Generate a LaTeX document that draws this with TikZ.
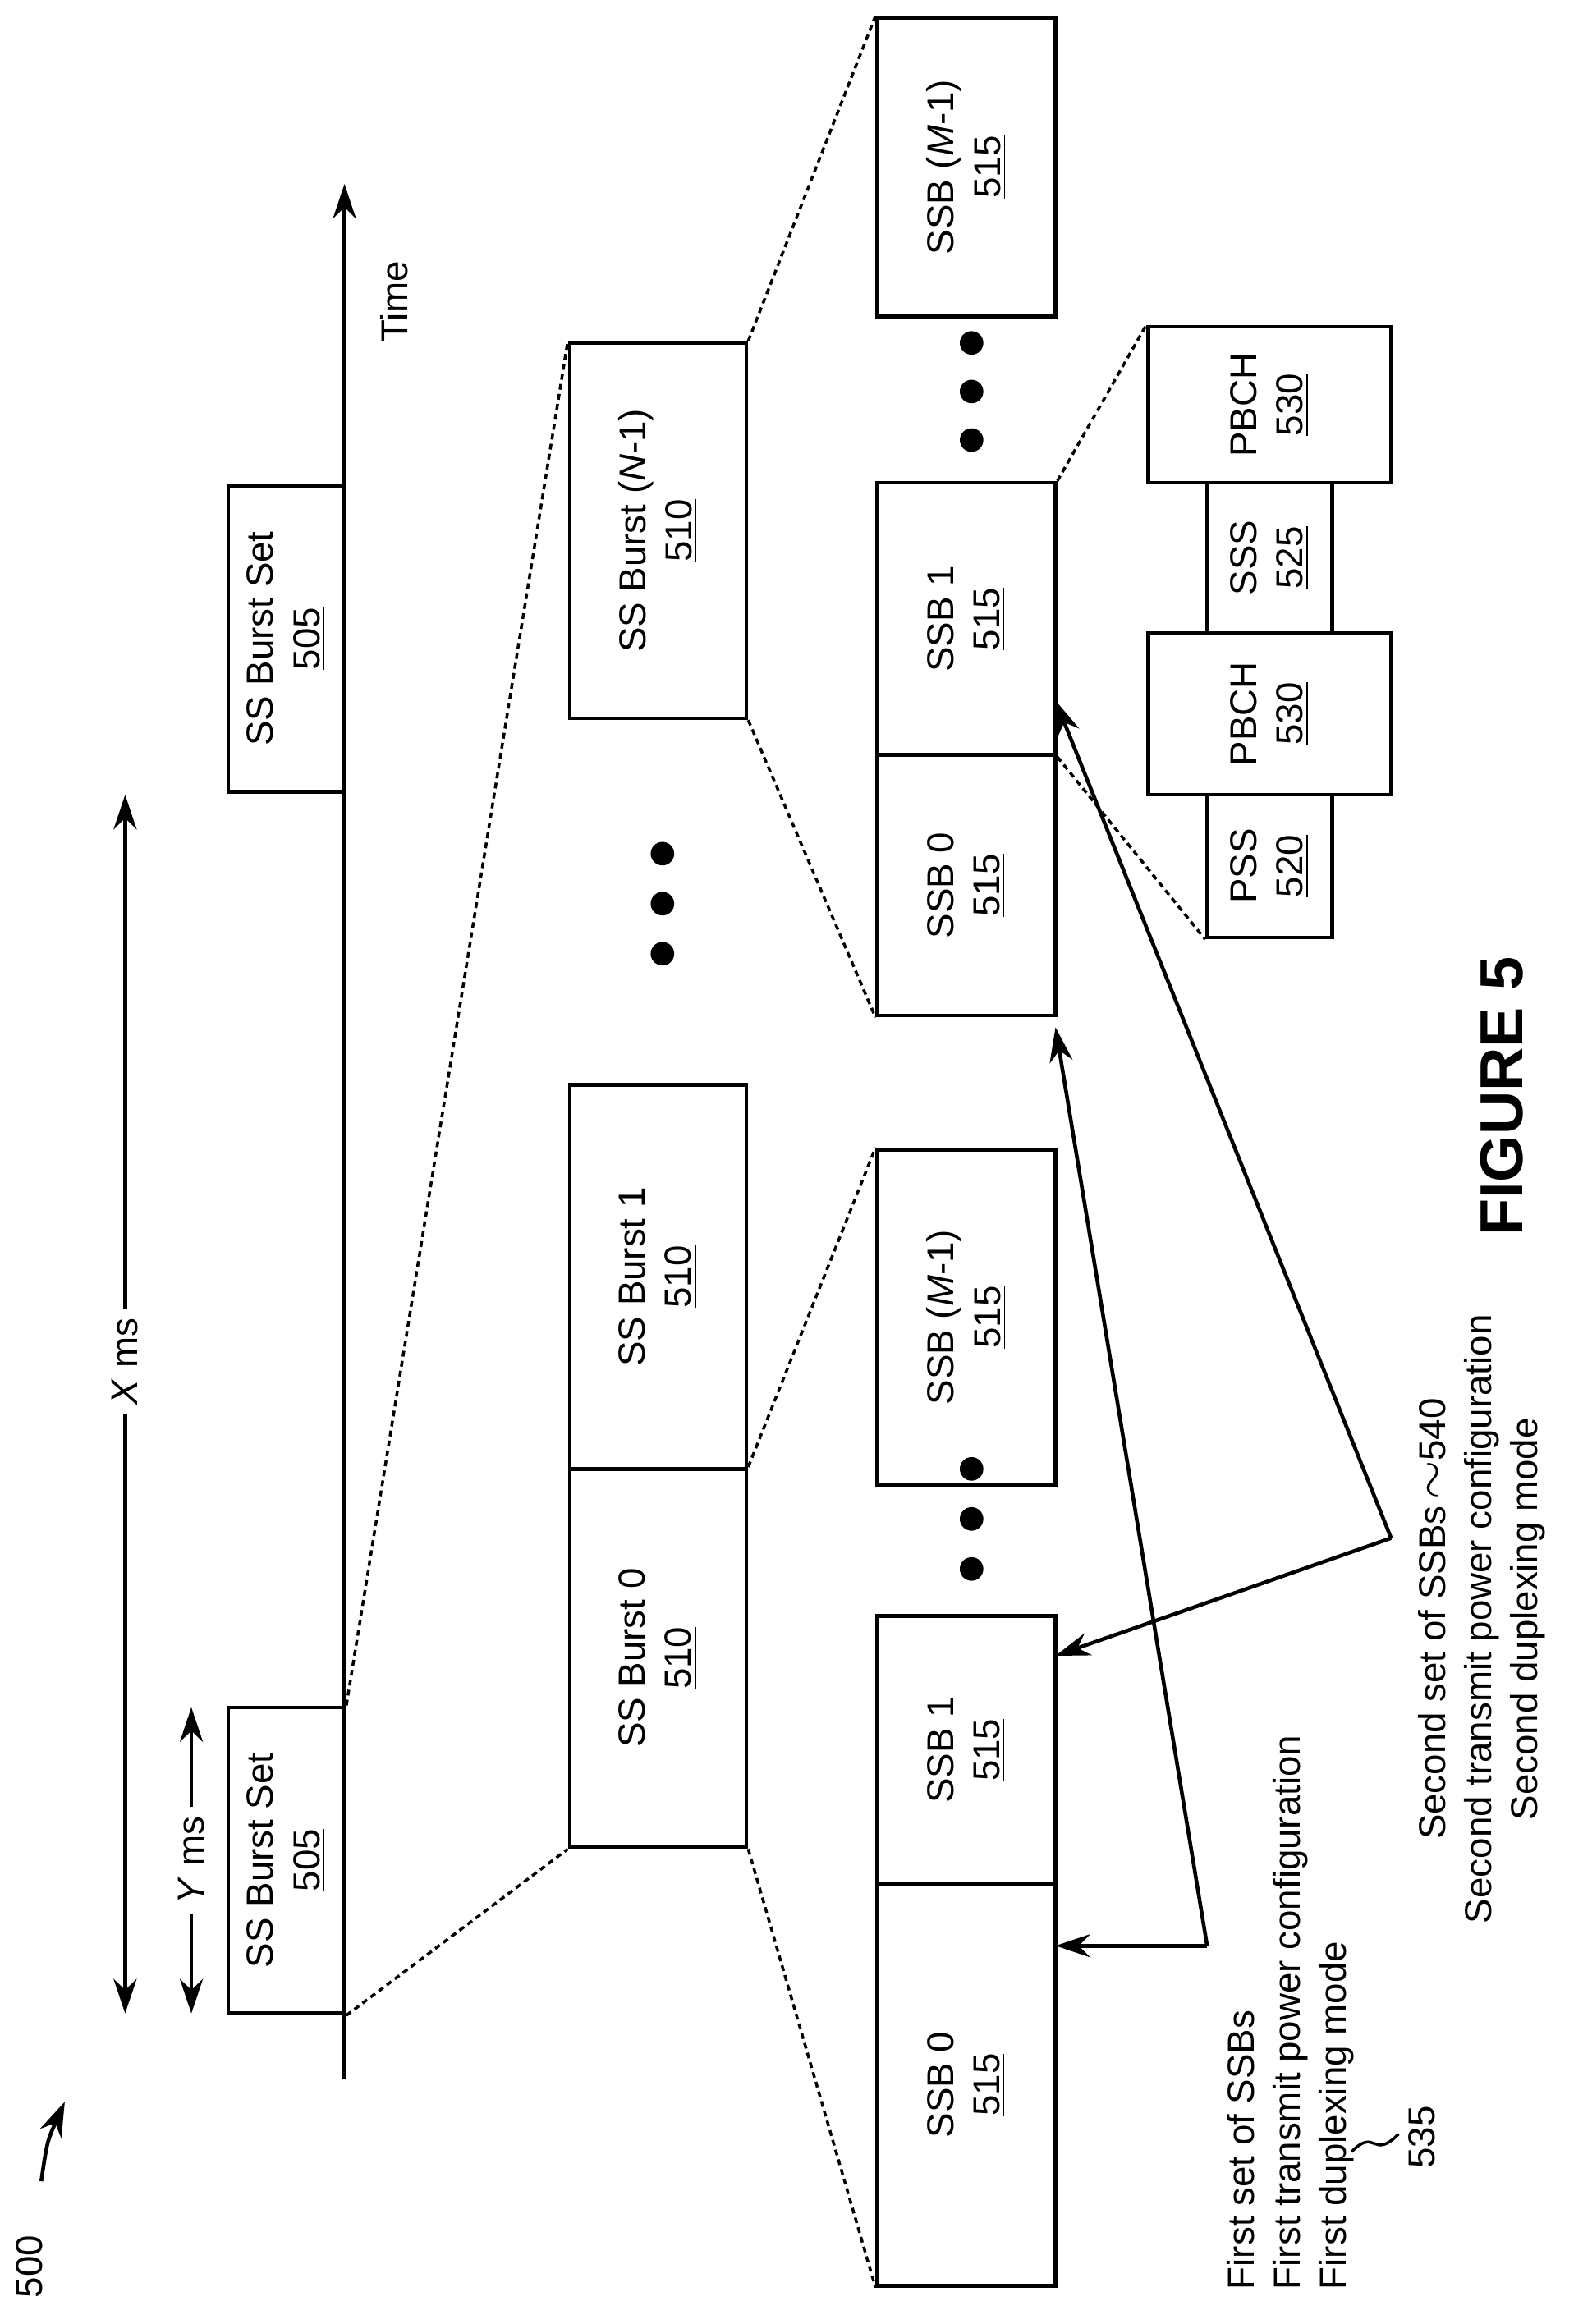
\documentclass[tikz,border=0pt]{standalone}
\usepackage{fontspec}
\setmainfont{Liberation Sans}
\usetikzlibrary{positioning, arrows.meta}

\begin{document}
\begin{tikzpicture}[
    x=0.01793cm, y=-0.01793cm,
    >=Stealth,
    lbl/.style={rotate=90, font=\fontsize{13}{16}\selectfont},
    blk/.style={draw, line width=1.3pt, rotate=90, align=center, inner sep=0pt, font=\fontsize{13}{16}\selectfont},
    zoomline/.style={line width=1pt, dash pattern=on 2pt off 1.5pt},
    ptr/.style={->, line width=1.3pt, >={Stealth[length=12pt, width=8pt]}},
]
\useasboundingbox (0,0) rectangle (1075,1579);

% === Time axis and burst sets ===
\coordinate (ax0) at (234,1413);
\coordinate (ax1) at (234,125);
\draw[ptr] (ax0) -- (ax1);
\node[lbl] (time) at (268,205) {Time};
\node[blk, minimum width=208*0.01793cm, minimum height=79*0.01793cm] (bs0) at (194.5,1264) {SS Burst Set\\\underline{505}};
\node[blk, minimum width=208*0.01793cm, minimum height=79*0.01793cm] (bs1) at (194.5,434) {SS Burst Set\\\underline{505}};

% === Durations ===
\coordinate (x0) at (85,1368);
\coordinate (x1) at (85,540);
\draw[ptr, <->] (x0) -- (x1);
\node[lbl, fill=white] (xms) at (85,925) {\textit{X} ms};
\coordinate (y0) at (130,1368);
\coordinate (y1) at (130,1160);
\draw[ptr, <->] (y0) -- (y1);
\node[lbl, fill=white] (yms) at (130,1264) {\textit{Y} ms};

\node[lbl] (fig) at (20,1540) {500};
\coordinate (r0) at (28,1482);
\coordinate (r1) at (44,1428);
\draw[ptr] (r0) .. controls (32,1455) .. (r1);

% === SS bursts ===
\node[blk, minimum width=257*0.01793cm, minimum height=120*0.01793cm] (b0) at (447,1126.5) {SS Burst 0\\\underline{510}};
\node[blk, minimum width=261*0.01793cm, minimum height=120*0.01793cm] (b1) at (447,867.5) {SS Burst 1\\\underline{510}};
\node[blk, minimum width=255*0.01793cm, minimum height=120*0.01793cm] (bN) at (447,360.5) {SS Burst (\textit{N}-1)\\\underline{510}};
\foreach \yy in {580,614,648} \fill (450,\yy) circle (8);
\draw[zoomline] (bs0.south west) -- (b0.north west);
\draw[zoomline] (bs0.south east) -- (bN.north east);

% === SSBs ===
\node[blk, minimum width=273*0.01793cm, minimum height=121*0.01793cm] (s00) at (656.5,1416.5) {SSB 0\\\underline{515}};
\node[blk, minimum width=182*0.01793cm, minimum height=121*0.01793cm] (s01) at (656.5,1189) {SSB 1\\\underline{515}};
\node[blk, minimum width=228*0.01793cm, minimum height=121*0.01793cm] (s0M) at (656.5,895) {SSB (\textit{M}-1)\\\underline{515}};
\foreach \yy in {998,1032,1066} \fill (660,\yy) circle (8);
\node[blk, minimum width=177*0.01793cm, minimum height=121*0.01793cm] (s10) at (656.5,601.5) {SSB 0\\\underline{515}};
\node[blk, minimum width=185*0.01793cm, minimum height=121*0.01793cm] (s11) at (656.5,420.5) {SSB 1\\\underline{515}};
\node[blk, minimum width=203*0.01793cm, minimum height=121*0.01793cm] (s1M) at (656.5,113.5) {SSB (\textit{M}-1)\\\underline{515}};
\foreach \yy in {233,266,299} \fill (660,\yy) circle (8);
\draw[zoomline] (b0.south west) -- (s00.north west);
\draw[zoomline] (b0.south east) -- (s0M.north east);
\draw[zoomline] (bN.south west) -- (s10.north west);
\draw[zoomline] (bN.south east) -- (s1M.north east);

% === SSB contents ===
\node[blk, minimum width=97*0.01793cm, minimum height=85*0.01793cm] (pss) at (862.5,588.5) {PSS\\\underline{520}};
\node[blk, minimum width=110*0.01793cm, minimum height=165*0.01793cm] (pbch0) at (862.5,485) {PBCH\\\underline{530}};
\node[blk, minimum width=102*0.01793cm, minimum height=85*0.01793cm] (sss) at (862.5,379) {SSS\\\underline{525}};
\node[blk, minimum width=106*0.01793cm, minimum height=165*0.01793cm] (pbch1) at (862.5,275) {PBCH\\\underline{530}};
\draw[zoomline] (s11.south west) -- (pss.north west);
\draw[zoomline] (s11.south east) -- (pbch1.north east);

% === Sets of SSBs ===
\coordinate (c1) at (820,1322);
\coordinate (c2) at (945,1045);
\coordinate (t10) at (717,1322);
\coordinate (t11) at (717,698);
\coordinate (t20) at (717,1125);
\coordinate (t21) at (717,476);
\draw[ptr] (c1) -- (t10);
\draw[ptr] (c1) -- (t11);
\draw[ptr] (c2) -- (t20);
\draw[ptr] (c2) -- (t21);

\node[lbl, anchor=north west, align=left, inner sep=0pt] (set1) at (833,1556)
  {First set of SSBs\\First transmit power configuration\\First duplexing mode};
\node[lbl] (n535) at (966,1452) {535};
\coordinate (q0) at (918,1462);
\coordinate (q1) at (950,1450);
\draw[line width=1pt] (q0) .. controls (935,1445) and (932,1468) .. (q1);
\node[lbl, anchor=north, align=center, inner sep=0pt] (set2) at (963,1100)
  {Second set of SSBs\,{\LARGE$\sim$}540\\Second transmit power configuration\\Second duplexing mode};

\node[rotate=90, font=\bfseries\fontsize{21}{25}\selectfont] (cap) at (1020,745) {FIGURE 5};
\end{tikzpicture}
\end{document}
